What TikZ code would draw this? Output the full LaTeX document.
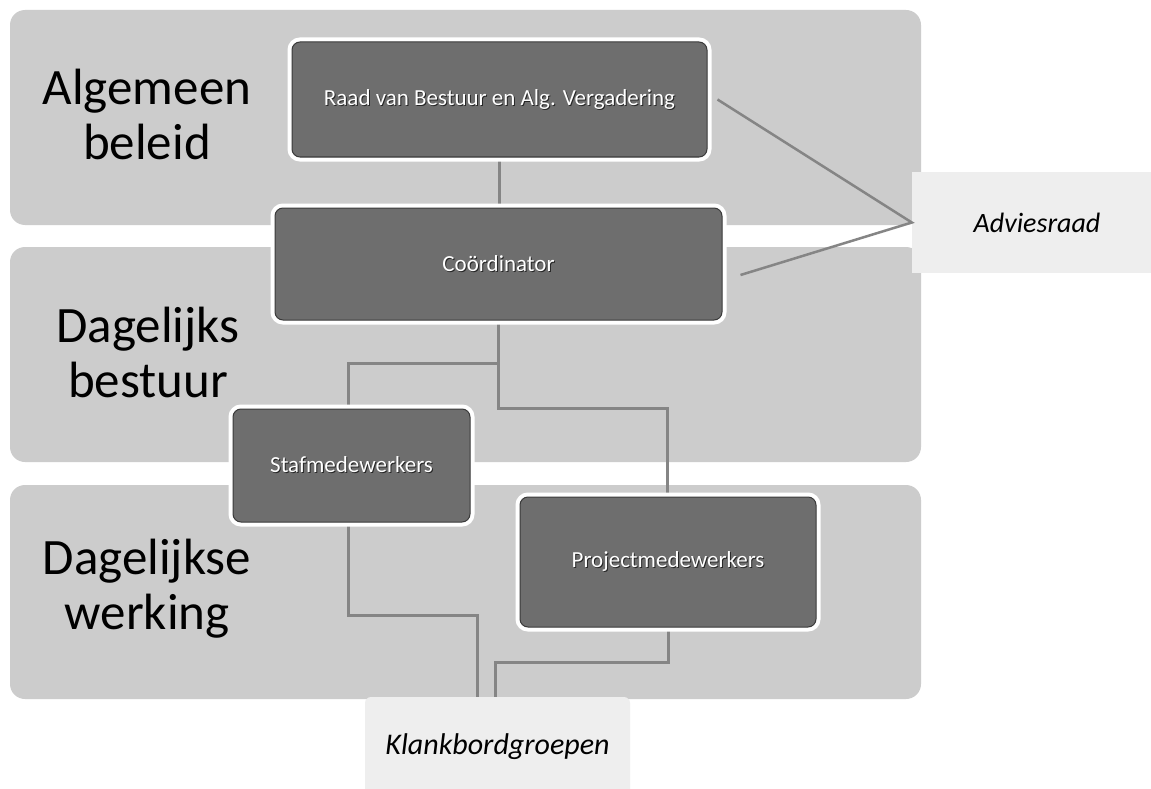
\documentclass[tikz,border=0pt]{standalone}
\usepackage{fontspec}
\setmainfont{Carlito}
\definecolor{bandgray}{HTML}{CCCCCC}
\definecolor{boxgray}{HTML}{6E6E6E}
\definecolor{boxline}{HTML}{3A3A3A}
\definecolor{conngray}{HTML}{858585}
\definecolor{notegray}{HTML}{EEEEEE}
\pgfdeclarelayer{bands}
\pgfdeclarelayer{lines}
\pgfsetlayers{bands,lines,main}
\newcommand{\shadowed}[1]{\leavevmode\rlap{\kern1pt\raisebox{-1pt}{\textcolor{black!85}{#1}}}#1}
\begin{document}
\begin{tikzpicture}[x=1pt,y=-1pt,
  band/.style={fill=bandgray, rounded corners=15pt},
  lvl/.style={align=center, font=\fontsize{51}{55}\selectfont, text=black, inner sep=0pt},
  orgbox/.style={rectangle, rounded corners=8pt, fill=boxgray, draw=boxline, line width=1pt,
    preaction={draw=white, line width=9pt}, text=white, font=\fontsize{23}{26}\selectfont, inner sep=0pt},
  note/.style={fill=notegray, inner sep=0pt, font=\itshape},
  conn/.style={draw=conngray, line width=3pt}]
\useasboundingbox (0,0) rectangle (1151,789);
% level bands
\begin{pgfonlayer}{bands}
\fill[white] (0,0) rectangle (1151,789);
\fill[band] (10,10) rectangle (921,225);
\fill[band] (10,247) rectangle (921,462);
\fill[band] (10,485) rectangle (921,699);
\end{pgfonlayer}
% level labels
\node[lvl] (l1) at (147,114) {Algemeen\\beleid};
\node[lvl] (l2) at (148,352) {Dagelijks\\bestuur};
\node[lvl] (l3) at (147,589) {Dagelijkse\\werking};
% boxes
\node[orgbox, minimum width=415, minimum height=115] (raad) at (499.5,99.5) {\shadowed{Raad van Bestuur en Alg. Vergadering}};
\node[orgbox, minimum width=447, minimum height=112] (coord) at (498.5,264) {\shadowed{Coördinator}};
\node[orgbox, minimum width=237, minimum height=113] (staf) at (351.5,465.5) {\shadowed{Stafmedewerkers}};
\node[orgbox, minimum width=296, minimum height=130] (proj) at (668,562) {\shadowed{Projectmedewerkers}};
% notes
\node[note, font=\fontsize{28}{32}\selectfont\itshape, minimum width=239, minimum height=101] (adv) at (1031.5,222.5) {\hspace*{11pt}Adviesraad};
\node[note, font=\fontsize{30}{34}\selectfont\itshape, rounded corners=6pt, minimum width=265, minimum height=100] (klank) at (497.5,747) {\raisebox{-4pt}{Klankbordgroepen}};
% connectors
\begin{pgfonlayer}{lines}
\draw[conn] (raad.south) -- (raad.south |- coord.north);
\draw[conn] (coord.south) |- (348,363) -- (348,409);
\draw[conn] (coord.south) |- (667,408) -- (667,497);
\draw[conn] (staf.south -| 348,0) |- (477,615) -- (477,697);
\draw[conn] (proj.south) |- (495,662) -- (495,697);
\end{pgfonlayer}
\draw[conn, line width=2.5pt] ([xshift=10]raad.east) -- (adv.west) -- ([shift={(18,11)}]coord.east);
\end{tikzpicture}
\end{document}
